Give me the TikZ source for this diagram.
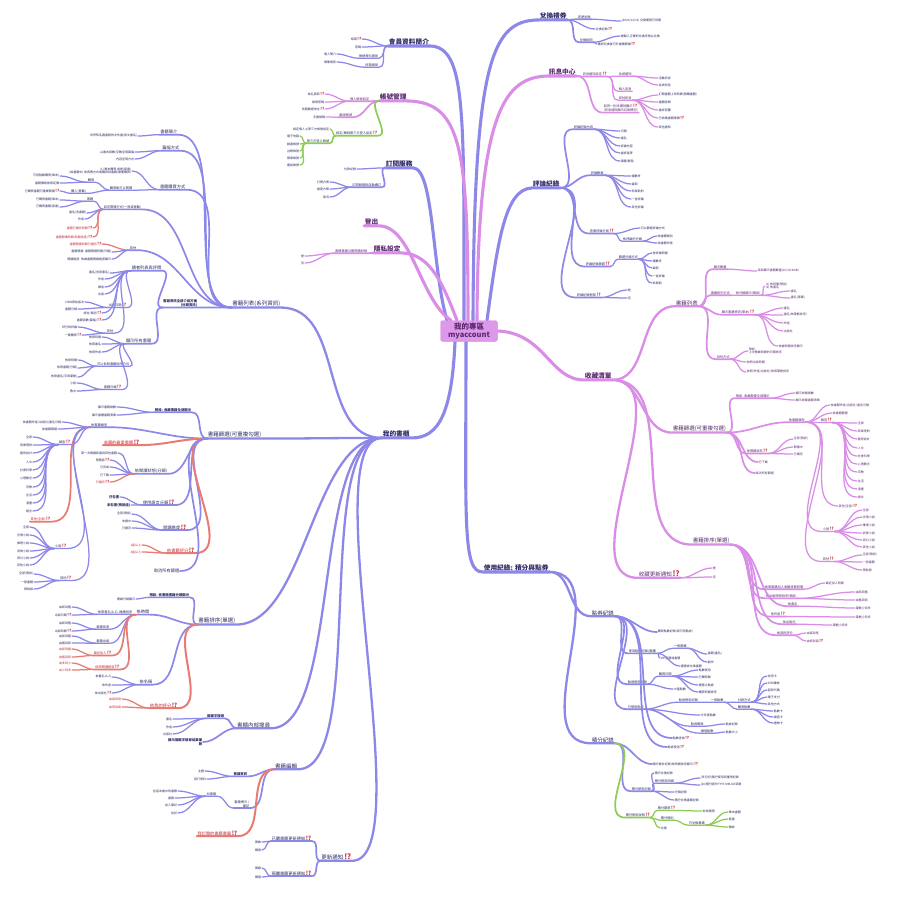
\documentclass[tikz,border=0pt]{standalone}
\usepackage{graphicx}
\usepackage{fontspec}
\setmainfont{Noto Sans CJK TC}
\definecolor{cb}{HTML}{8D88E8}
\definecolor{cp}{HTML}{DA8DE6}
\definecolor{cg}{HTML}{8FCB55}
\definecolor{cr}{HTML}{E77C72}
\definecolor{tb}{HTML}{2E2C66}
\definecolor{tp}{HTML}{5A2A6E}
\definecolor{tr}{HTML}{C8283A}
\definecolor{cfill}{HTML}{DE98EA}
\newcounter{lfc}
\newcommand\Q{\,\textcolor{tr}{\scalebox{1.35}{\bfseries !?}}}
\tikzset{
 every node/.style={inner xsep=0.6pt,inner ysep=0.5pt,text=tb},
 lf/.style={font=\fontsize{3}{3.5}\selectfont},
 mdn/.style={font=\fontsize{3.2}{3.8}\selectfont},
 bld/.style={font=\bfseries\fontsize{3.4}{4}\selectfont},
 l3n/.style={font=\fontsize{4.2}{5}\selectfont},
 lvt/.style={font=\fontsize{5.5}{6.5}\selectfont},
 lvo/.style={font=\bfseries\fontsize{6.7}{8}\selectfont},
 tpk/.style={text=tp}, rtx/.style={text=tr},
 cn/.style={line cap=round,max distance=50pt},
 b1/.style={cn,draw=cb,line width=3.1pt,max distance=70pt},
 b2/.style={cn,draw=cb,line width=2.3pt,max distance=70pt},
 b3/.style={cn,draw=cb,line width=1.7pt},
 b4/.style={cn,draw=cb,line width=1.25pt},
 p1/.style={cn,draw=cp,line width=3.1pt,max distance=70pt},
 p2/.style={cn,draw=cp,line width=2.3pt,max distance=70pt},
 p3/.style={cn,draw=cp,line width=1.7pt},
 p4/.style={cn,draw=cp,line width=1.25pt},
 g3/.style={cn,draw=cg,line width=1.7pt},
 g4/.style={cn,draw=cg,line width=1.25pt},
 r2/.style={cn,draw=cr,line width=2pt},
 r3/.style={cn,draw=cr,line width=1.7pt},
 r4/.style={cn,draw=cr,line width=1.25pt},
 ctrn/.style={fill=cfill,rounded corners=2pt,minimum width=57pt,minimum height=21pt,
   font=\bfseries\fontsize{7.5}{8.5}\selectfont,text=tp,align=center,inner sep=1pt}
}
% topic left / right
\newcommand\TL[7][mdn]{\node[#1,anchor=east,align=right] (#3) at (#5,#6) {#7};
 \draw[#2] (#4.south west) to[out=180,in=0] (#3.south east) -- (#3.south west);}
\newcommand\TR[7][mdn]{\node[#1,anchor=west,align=left] (#3) at (#5,#6) {#7};
 \draw[#2] (#4.south east) to[out=0,in=180] (#3.south west) -- (#3.south east);}
% leaf left / right
\newcommand\LL[6][]{\stepcounter{lfc}\node[lf,#1,anchor=east,align=right] (lv\thelfc) at (#4,#5) {#6};
 \draw[#2] (#3.south west) to[out=180,in=0] (lv\thelfc.east);}
\newcommand\LR[6][]{\stepcounter{lfc}\node[lf,#1,anchor=west,align=left] (lv\thelfc) at (#4,#5) {#6};
 \draw[#2] (#3.south east) to[out=0,in=180] (lv\thelfc.west);}
\begin{document}
\begin{tikzpicture}[x=1pt,y=-1pt]
\useasboundingbox (0,0) rectangle (900,900);
\fill[white] (0,0) rectangle (900,900);
\node[ctrn] (ctr) at (469,331) {我的專區\\myaccount};

% ===== 會員資料簡介
\node[lvo,anchor=west] (m1) at (388,42) {會員資料簡介};
\draw[b1] ([xshift=-5pt]ctr.north) .. controls (464,110) and (466,47) .. (m1.south east) -- (m1.south west);
\LL{b4}{m1}{362}{39}{相簿\Q}
\LL{b4}{m1}{362}{47}{密碼}
\TL{b4}{m1c}{m1}{379}{56}{帳號資料更新}
\LL{b4}{m1c}{337}{54}{個人簡介}
\TL{b4}{m1d}{m1}{379}{65}{信箱更新}
\LL{b4}{m1d}{337}{62}{頭像更新}

% ===== 帳號管理
\node[lvo,tpk,anchor=west] (m2) at (379,97) {帳號管理};
\draw[p1] ([xshift=-1pt]ctr.north) .. controls (468,150) and (462,102) .. (m2.south east) -- (m2.south west);
\TL[mdn,tpk]{p3}{m2a}{m2}{370}{99}{個人帳號設定}
\LL{p4}{m2a}{325}{94}{姓名更新\Q}
\LL{p4}{m2a}{325}{102}{帳號密碼}
\LL{p4}{m2a}{325}{109}{信箱驗證地址\Q}
\TL[mdn,tpk]{p3}{m2b}{m2}{353}{115}{驗證帳號}
\LL{p4}{m2b}{326}{117}{手機號碼}
\TL{g3}{m2c}{m2}{378}{133}{綁定/解除第三方登入設定\Q}
\LL{g4}{m2c}{330}{129}{綁定個人之第三方帳號設定}
\TL{g3}{m2c2}{m2c}{330}{141}{第三方登入帳號}
\LL{g4}{m2c2}{300}{136}{電子信箱}
\LL{g4}{m2c2}{300}{144}{臉書帳號}
\LL{g4}{m2c2}{300}{151}{谷歌帳號}
\LL{g4}{m2c2}{300}{158}{蘋果帳號}
\LL{g4}{m2c2}{300}{165}{連結帳號}

% ===== 訂閱服務
\node[lvo,anchor=west] (m3) at (385,164) {訂閱服務};
\draw[b1] ([xshift=-22pt]ctr.north) .. controls (432,270) and (434,169) .. (m3.south east) -- (m3.south west);
\LL{b4}{m3}{357}{169}{付款紀錄}
\TL{b3}{m3b}{m3}{382}{185}{訂閱服務與自動續訂}
\LL{b4}{m3b}{330}{182}{訂閱方案}
\LL{b4}{m3b}{330}{189}{變更方案}
\LL{b4}{m3b}{330}{197}{取消}

% ===== 登出 / 隱私設定
\node[lvo,tpk,anchor=west] (m4) at (364,222) {登出};
\draw[p1] ([xshift=-18pt]ctr.north) .. controls (420,300) and (412,226) .. (m4.south east) -- (m4.south west);
\node[lvo,tpk,anchor=west] (m5) at (373,249) {隱私設定};
\draw[p1] ([xshift=-12pt]ctr.north) .. controls (445,290) and (432,253) .. (m5.south east) -- (m5.south west);
\TL[mdn,tpk]{p3}{m5a}{m5}{368}{251}{書櫃書籍公開閱讀紀錄}
\LL{p4}{m5a}{305}{256}{是}
\LL{p4}{m5a}{305}{263}{否}

% ===== 兌換禮券
\node[lvo,anchor=west] (m6) at (539,16) {兌換禮券};
\draw[b1] ([xshift=4pt]ctr.north) .. controls (474,60) and (492,20) .. (m6.south west) -- (m6.south east);
\TR{b3}{m6a}{m6}{577}{17}{序號兌換}
\LR{b4}{m6a}{621}{21}{(2023/12/31) 兌換期限已到期}
\LR{b4}{m6}{595}{29}{兌換紀錄\Q}
\TR{b3}{m6c}{m6}{579}{40}{兌換說明}
\LR{b4}{m6c}{620}{36}{請輸入正確的兌換序號以兌換}
\LR{b4}{m6c}{597}{44}{確認兌換後可於書櫃閱讀\Q}

% ===== 訊息中心
\node[lvo,tpk,anchor=west] (m7) at (548,72) {訊息中心};
\draw[p1] ([xshift=8pt]ctr.north) .. controls (478,110) and (505,77) .. (m7.south west) -- (m7.south east);
\TR[mdn,tpk]{p3}{m7a}{m7}{582}{74}{訊息通知設定\Q}
\TR[mdn,tpk]{p4}{m7a1}{m7a}{618}{74}{系統通知}
\LR{p4}{m7a1}{658}{78}{活動訊息}
\LR{p4}{m7a1}{658}{85}{系統訊息}
\TR[mdn,tpk]{p4}{m7a2}{m7a}{618}{89}{個人訊息}
\TR[mdn,tpk]{p4}{m7a3}{m7a}{618}{98}{其他訊息}
\LR{p4}{m7a3}{658}{95}{訂閱書籍上架時間(預購書籍)}
\LR{p4}{m7a3}{658}{102}{書籍促銷}
\LR{p4}{m7a3}{658}{110}{書評回覆}
\LR{p4}{m7a3}{658}{118}{已收藏書籍降價\Q}
\LR{p4}{m7a3}{658}{127}{其他通知}
\TR[mdn,tpk]{p3}{m7b}{m7}{603}{108}{若有一則未讀就顯示\Q\\(訊息通知顯示紅點標記)}

% ===== 評論紀錄
\node[lvo,anchor=west] (m8) at (532,184) {評論紀錄};
\draw[b1] ([xshift=18pt]ctr.north) .. controls (498,240) and (505,189) .. (m8.south west) -- (m8.south east);
\TR{b3}{m8a}{m8}{573}{127}{評論紀錄內容}
\LR{b4}{m8a}{620}{131}{日期}
\LR{b4}{m8a}{620}{138}{書名}
\LR{b4}{m8a}{620}{146}{評論內容}
\LR{b4}{m8a}{620}{153}{書評星等}
\LR{b4}{m8a}{620}{161}{隱藏/刪除}
\TR{b3}{m8b}{m8}{590}{173}{評論數量}
\LR{b4}{m8b}{631}{176}{讚數多}
\LR{b4}{m8b}{631}{184}{最新}
\LR{b4}{m8b}{631}{191}{有幫助的}
\LR{b4}{m8b}{631}{199}{一星評論}
\LR{b4}{m8b}{631}{207}{其他評論}
\TR{b3}{m8c}{m8}{589}{231}{查看評論分頁\Q}
\LR{b4}{m8c}{640}{228}{可以篩選評論方式}
\TR{b4}{m8c2}{m8c}{622}{239}{依評論的分類}
\LR{b4}{m8c2}{657}{236}{依書籍類別}
\LR{b4}{m8c2}{657}{243}{依書籍作者}
\TR{b3}{m8d}{m8}{585}{264}{評論紀錄篩選\Q}
\TR{b4}{m8d1}{m8d}{618}{257}{篩選分類方式}
\LR{b4}{m8d1}{652}{253}{依評論時間}
\LR{b4}{m8d1}{652}{261}{讚數多}
\LR{b4}{m8d1}{652}{268}{最新}
\LR{b4}{m8d1}{652}{276}{一星評論}
\LR{b4}{m8d1}{652}{283}{有幫助}
\TR{b3}{m8e}{m8}{576}{295}{評論紀錄刪除\Q}
\LR{b4}{m8e}{627}{290}{是}
\LR{b4}{m8e}{627}{298}{否}

% ===== 收藏清單
\node[lvo,tpk,anchor=west] (m9) at (584,376) {收藏清單};
\draw[p1] (ctr.east) .. controls (545,333) and (550,380) .. (m9.south west) -- (m9.south east);
\TR[lvt,tpk]{p2}{q1}{m9}{675}{303}{書籍列表}
\TR[lvt,tpk]{p2}{q2}{m9}{672}{429}{書籍篩選(可重複勾選)}
\TR[lvt,tpk]{p2}{q3}{m9}{692}{541}{書籍排序(單選)}
\TR[lvt,tpk]{p2}{q4}{m9}{638}{574}{收藏更新通知\Q}
% 書籍列表
\TR[mdn,tpk]{p3}{q1a}{q1}{713}{267}{顯示數量}
\LR[tpk]{p4}{q1a}{757}{271}{每頁顯示書籍數量(10/20/40本)}
\TR[mdn,tpk]{p3}{q1b}{q1}{710}{293}{書籍排列方式}
\TR[mdn,tpk]{p4}{q1b1}{q1b}{735}{293}{依分類顯示(預設)}
\LR[tpk]{p4}{q1b1}{765}{286}{(1) 依時間(預設)\\(2) 依書名}
\LR[tpk]{p4}{q1b1}{790}{291}{書名}
\LR[tpk]{p4}{q1b1}{790}{298}{書名(降冪)}
\TR[mdn,tpk]{p3}{q1c}{q1}{721}{312}{顯示書籍資訊(單本)\Q}
\LR[tpk]{p4}{q1c}{783}{308}{書名}
\LR[tpk]{p4}{q1c}{783}{315}{書名(依筆劃排序)}
\LR[tpk]{p4}{q1c}{783}{323}{作者}
\LR[tpk]{p4}{q1c}{783}{331}{出版社}
\LR[tpk]{p4}{q1c}{778}{346}{依據時間排序顯示}
\TR[mdn,tpk]{p3}{q1e}{q1}{716}{357}{排列方式}
\LR[tpk]{p4}{q1e}{748}{351}{預設:\\上次開啟時間的日期排序}
\LR[tpk]{p4}{q1e}{746}{362}{依照出版時間}
\LR[tpk]{p4}{q1e}{746}{372}{依照(作者/出版社)依照筆劃排序}
% 書籍篩選
\TR[mdn,tpk]{p3}{q2a}{q2}{735}{396}{預設: 收藏書籍全部顯示}
\LR[tpk]{p4}{q2a}{795}{393}{顯示收藏總數}
\LR[tpk]{p4}{q2a}{795}{400}{顯示收藏書籍清單}
\TR[mdn,tpk]{p3}{q2b}{q2}{788}{420}{依書籍類型}
\LR[tpk]{p4}{q2b}{830}{405}{依書籍作者/出版社/書名分類}
\LR[tpk]{p4}{q2b}{832}{413}{依書籍篩選}
\TR[mdn,tpk]{p4}{q2b1}{q2b}{820}{420}{類型\Q}
\LR[tpk]{p4}{q2b1}{857}{423}{全部}
\LR[tpk]{p4}{q2b1}{857}{431}{商業理財}
\LR[tpk]{p4}{q2b1}{857}{439}{藝術設計}
\LR[tpk]{p4}{q2b1}{857}{448}{人文}
\LR[tpk]{p4}{q2b1}{857}{456}{社會科學}
\LR[tpk]{p4}{q2b1}{857}{464}{心理勵志}
\LR[tpk]{p4}{q2b1}{857}{472}{宗教}
\LR[tpk]{p4}{q2b1}{857}{481}{生活}
\LR[tpk]{p4}{q2b1}{857}{489}{漫畫}
\LR[tpk]{p4}{q2b1}{857}{497}{語言}
\LR[tpk]{p4}{q2b}{838}{506}{其他(全部)\Q}
\TR[mdn,tpk]{p4}{q2b3}{q2b}{822}{529}{小說\Q}
\LR[tpk]{p4}{q2b3}{862}{510}{全部}
\LR[tpk]{p4}{q2b3}{862}{517}{言情小說}
\LR[tpk]{p4}{q2b3}{862}{525}{推理小說}
\LR[tpk]{p4}{q2b3}{862}{533}{武俠小說}
\LR[tpk]{p4}{q2b3}{862}{540}{奇幻小說}
\LR[tpk]{p4}{q2b3}{862}{547}{其他小說}
\TR[mdn,tpk]{p4}{q2b4}{q2b}{822}{559}{其他\Q}
\LR[tpk]{p4}{q2b4}{862}{555}{全部(預設)}
\LR[tpk]{p4}{q2b4}{862}{562}{一般書籍}
\LR[tpk]{p4}{q2b4}{862}{570}{限制級}
\TR[mdn,tpk]{p3}{q2c}{q2}{746}{451}{依閱讀狀態\Q}
\LR[tpk]{p4}{q2c}{793}{439}{全部(預設)}
\LR[tpk]{p4}{q2c}{793}{447}{閱讀中}
\LR[tpk]{p4}{q2c}{793}{454}{已讀完}
\LR[tpk]{p3}{q2}{758}{462}{已下載}
\LR[tpk]{p3}{q2}{755}{473}{取消所有篩選}
% 書籍排序
\TR[mdn,tpk]{p3}{q3a}{q3}{764}{587}{依照書籍加入收藏清單時間}
\LR[tpk]{p4}{q3a}{825}{583}{最近加入時間}
\TR[mdn,tpk]{p3}{q3b}{q3}{765}{596}{依出版時間排序(預設)}
\LR[tpk]{p4}{q3b}{855}{592}{由新到舊}
\LR[tpk]{p4}{q3b}{855}{600}{由舊到新}
\TR[mdn,tpk]{p3}{q3c}{q3}{787}{604}{依書名}
\LR[tpk]{p4}{q3c}{855}{608}{筆劃少到多}
\TR[mdn,tpk]{p3}{q3d}{q3}{770}{614}{依作者\Q}
\LR[tpk]{p4}{q3d}{855}{617}{筆劃少到多}
\TR[mdn,tpk]{p3}{q3e}{q3}{782}{622}{依出版社}
\LR[tpk]{p4}{q3e}{832}{625}{筆劃少到多}
\TR[mdn,tpk]{p3}{q3f}{q3}{776}{633}{依我的評分}
\LR[tpk]{p4}{q3f}{806}{633}{由高到低}
\LR[tpk]{p4}{q3f}{806}{641}{由低到高\Q}
% 收藏更新通知
\LR[tpk]{p4}{q4}{712}{568}{是}
\LR[tpk]{p4}{q4}{712}{577}{否}

% ===== 使用紀錄: 積分與點券
\node[lvo,anchor=west] (m10) at (483,568) {使用紀錄: 積分與點券};
\draw[b1] ([xshift=-3pt]ctr.south) .. controls (466,520) and (462,573) .. (m10.south west) -- (m10.south east);
\TR[lvt]{b2}{u1}{m10}{591}{613}{點券紀錄}
\TR[lvt]{b2}{u2}{m10}{591}{740}{積分紀錄}
\LR{b3}{u1}{657}{632}{購買點數紀錄(與可用點券)}
\TR{b3}{u1b}{u1}{628}{651}{使用點券紀錄(書籍)}
\TR{b4}{u1b1}{u1b}{673}{646}{一般書籍}
\LR{b4}{u1b1}{707}{654}{書籍(書名)}
\LR{b4}{u1b1}{707}{662}{創作}
\LR{b4}{u1b}{660}{658}{VIP書籍或書籍}
\LR{b4}{u1b}{680}{666}{優惠券兌換書籍}
\TR{b3}{u1c}{u1}{627}{682}{點券使用紀錄}
\TR{b4}{u1c1}{u1c}{658}{674}{購買日期}
\LR{b4}{u1c1}{698}{670}{點數使用}
\LR{b4}{u1c1}{698}{677}{已購時間}
\LR{b4}{u1c1}{698}{685}{優惠之點券}
\LR{b4}{u1c1}{698}{692}{購買時間排序}
\LR{b4}{u1c}{673}{689}{大量點數}
\TR{b3}{u1d}{u1}{627}{707}{已使用點券}
\TR{b4}{u1d1}{u1d}{678}{700}{點券使用紀錄}
\TR{b4}{u1d2}{u1d1}{710}{700}{一般點數}
\TR{b4}{u1d3}{u1d2}{737}{700}{付款方式}
\LR{b4}{u1d3}{767}{676}{信用卡}
\LR{b4}{u1d3}{767}{683}{ATM轉帳}
\LR{b4}{u1d3}{767}{690}{超商代碼}
\LR{b4}{u1d3}{767}{697}{電子支付}
\LR{b4}{u1d3}{767}{704}{其他方式}
\TR{b4}{u1d4}{u1d2}{737}{707}{購買點數}
\LR{b4}{u1d4}{773}{711}{點數卡}
\LR{b4}{u1d4}{773}{717}{儲值卡}
\LR{b4}{u1d4}{773}{723}{禮物卡}
\LR{b4}{u1d}{700}{715}{今年度點數}
\TR{b4}{u1d5}{u1d}{690}{724}{點券期限}
\LR{b4}{u1d5}{725}{724}{點券紀錄}
\TR{b4}{u1d6}{u1d}{700}{731}{儲值點數}
\LR{b4}{u1d6}{725}{732}{點數大小}
\LR{b3}{u1}{672}{738}{點數查詢\Q}
\LR{b3}{u1}{667}{747}{點券使用\Q}
\LR{b3}{u2}{652}{764}{積分累計紀錄(依時間排序顯示)\Q}
\TR{b3}{u2b}{u2}{631}{789}{積分使用紀錄}
\LR{b4}{u2b}{654}{773}{積分兌換紀錄}
\TR{b4}{u2b1}{u2b}{654}{781}{積分使用明細}
\LR{b4}{u2b1}{700}{778}{(年月份)積分使用與獲得紀錄}
\LR{b4}{u2b1}{700}{785}{(20)積分將於YYYY-MM-DD到期}
\LR{b4}{u2b}{674}{792}{分類紀錄}
\LR{b4}{u2b}{674}{800}{積分兌換書籍紀錄}
\TR{g3}{u2c}{u2}{625}{815}{積分使用說明\Q}
\TR{g4}{u2c1}{u2c}{657}{808}{積分期限\Q}
\LR{g4}{u2c1}{702}{811}{有效期限}
\TR{g4}{u2c2}{u2c}{660}{818}{積分規則}
\TR{g4}{u2c3}{u2c2}{688}{823}{可兌換書籍}
\LR{g4}{u2c3}{728}{812}{單本書籍}
\LR{g4}{u2c3}{728}{819}{套書}
\LR{g4}{u2c3}{728}{827}{雜誌}
\LR{g4}{u2c}{660}{828}{兌換}

% ===== 我的書櫃
\node[lvo,anchor=west] (m11) at (382,434) {我的書櫃};
\draw[b1] ([xshift=-14pt]ctr.south) .. controls (452,410) and (440,439) .. (m11.south east) -- (m11.south west);
\TL[lvt]{b2}{n1}{m11}{281}{304}{書籍列表(系列資訊)}
\TL[lvt]{b2}{n2}{m11}{262}{435}{書籍篩選(可重複勾選)}
\TL[lvt]{b2}{n3}{m11}{236}{621}{書籍排序(單選)}
\TL[lvt]{b2}{n4}{m11}{271}{725}{書櫃內部搜尋}
\TL[lvt]{b2}{n5}{m11}{298}{766}{書籍編輯}
\TL[lvt]{b2}{n6}{m11}{352}{857}{更新通知\Q}
% 書籍列表(系列資訊)
\TL[l3n]{b3}{n1a}{n1}{178}{132}{書籍簡介}
\LL{b4}{n1a}{138}{136}{世界知名圖書館的文件書(原文書名)}
\TL[l3n]{b3}{n1b}{n1}{180}{148}{篇幅方式}
\LL{b4}{n1b}{135}{152}{以書本頁數/字數呈現篇幅}
\LL{b4}{n1b}{135}{159}{內容呈現方式}
\TL[l3n]{b3}{n1c}{n1}{186}{187}{書籍購買方式}
\LL{b4}{n1c}{132}{171}{(1) 單本購買 或是(套書)\\(如書籍中) 依買賣方式或購買與書籍(需要購買)}
\TL{b4}{n1c1}{n1c}{133}{188}{購買後可以閱讀}
\TL{b4}{n1c11}{n1c1}{95}{180}{購買}
\LL{b4}{n1c11}{60}{176}{可用點數購買(單本)}
\LL{b4}{n1c11}{60}{183}{書籍價格依照定價}
\TL{b4}{n1c12}{n1c1}{87}{191}{購入(買斷)}
\LL{b4}{n1c12}{60}{191}{已購買書籍可重複閱讀\Q}
\TL{b3}{n1d}{n1}{142}{207}{設定閱讀方式(一般或捲動)}
\TL{b4}{n1d1}{n1d}{94}{199}{書籍}
\LL{b4}{n1d1}{60}{200}{已購買書籍(單本)}
\LL{b4}{n1d1}{60}{207}{已購買書籍(套書)}
\LL{b4}{n1d}{87}{213}{書名(含書籍)}
\LL{b4}{n1d}{85}{219}{作者}
\LL[rtx]{r4}{n1d}{93}{228}{書籍已讀完時間\Q}
\LL[rtx]{r4}{n1d}{93}{237}{書籍閱讀時間(時間長度)\Q}
\TL{b3}{n1e}{n1}{137}{248}{其他}
\LL[rtx]{r4}{n1e}{102}{244}{書籍閱讀時間已讀完\Q}
\LL{b4}{n1e}{112}{252}{書籍閱讀: 書籍閱讀時間(分鐘)}
\LL{b4}{n1e}{112}{259}{閱讀進度: 依據書籍閱讀進度顯示}
\TL[bld]{b3}{n1f}{n1}{198}{303}{書籍資訊全部介紹方面\\(分類資訊)}
\TL[l3n]{b3}{n1f1}{n1f}{162}{268}{讀者列表與評價}
\LL{b4}{n1f1}{110}{273}{書名(含原書名)}
\LL{b4}{n1f1}{105}{279}{作者}
\LL{b4}{n1f1}{105}{287}{譯者}
\LL{b4}{n1f1}{105}{294}{出版}
\TL{b4}{n1f1a}{n1f1}{127}{305}{出版日期\Q}
\LL{b4}{n1f1a}{85}{302}{ISBN原始版次}
\LL{b4}{n1f1a}{78}{309}{書籍分類}
\LL{b4}{n1f1}{102}{313}{語言/類別\Q}
\LL{b4}{n1f1}{102}{320}{書籍頁數(篇幅)\Q}
\TL{b4}{n1f1b}{n1f1}{114}{331}{其他}
\LL{b4}{n1f1b}{78}{327}{評分與評論}
\LL{b4}{n1f1b}{82}{335}{一鍵購買\Q}
\TL[l3n]{b3}{n1f2}{n1f}{152}{341}{顯示所有書籍}
\LL{b4}{n1f2}{102}{337}{依照時間}
\LL{b4}{n1f2}{102}{344}{依照書名}
\LL{b4}{n1f2}{102}{352}{依照作者}
\TL{b4}{n1f2a}{n1f2}{130}{364}{可以依照書籍排序方式}
\LL{b4}{n1f2a}{78}{360}{依照時間}
\LL{b4}{n1f2a}{78}{368}{依照書籍(分類)}
\LL{b4}{n1f2a}{78}{377}{依照書名(字首筆劃)}
\TL{b4}{n1f2b}{n1f2}{122}{387}{書籍分類\Q}
\LL{b4}{n1f2b}{77}{383}{小說}
\LL{b4}{n1f2b}{77}{391}{散文}
% 書籍篩選(可重複勾選)
\TL[bld]{b3}{n2a}{n2}{192}{410}{預設: 收藏書籍全部顯示}
\LL{b4}{n2a}{117}{407}{顯示書籍總數}
\LL{b4}{n2a}{117}{415}{顯示書櫃書籍清單}
\TL{b3}{n2b}{n2}{108}{425}{依書籍類型}
\LL{b4}{n2b}{62}{422}{依書籍作者/出版社/書名分類}
\LL{b4}{n2b}{58}{429}{依書籍篩選}
\TL{b4}{n2b1}{n2b}{71}{442}{類型\Q}
\LL{b4}{n2b1}{33}{437}{全部}
\LL{b4}{n2b1}{33}{445}{商業理財}
\LL{b4}{n2b1}{33}{453}{藝術設計}
\LL{b4}{n2b1}{33}{462}{人文}
\LL{b4}{n2b1}{33}{470}{社會科學}
\LL{b4}{n2b1}{33}{478}{心理勵志}
\LL{b4}{n2b1}{33}{487}{宗教}
\LL{b4}{n2b1}{33}{495}{生活}
\LL{b4}{n2b1}{33}{503}{漫畫}
\LL{b4}{n2b1}{33}{511}{語言}
\TL[mdn,rtx]{r3}{n2b2}{n2b}{51}{519}{其他(全部)\Q}
\TL{b4}{n2b3}{n2b}{67}{546}{小說\Q}
\LL{b4}{n2b3}{30}{527}{全部}
\LL{b4}{n2b3}{30}{535}{言情小說}
\LL{b4}{n2b3}{30}{543}{推理小說}
\LL{b4}{n2b3}{30}{551}{武俠小說}
\LL{b4}{n2b3}{30}{558}{奇幻小說}
\LL{b4}{n2b3}{30}{565}{其他小說}
\TL{b4}{n2b4}{n2b}{72}{578}{其他\Q}
\LL{b4}{n2b4}{34}{574}{全部(預設)}
\LL{b4}{n2b4}{34}{582}{一般書籍}
\LL{b4}{n2b4}{34}{589}{限制級}
\TL[l3n,rtx]{r2}{n2c}{n2}{140}{442}{收藏的最愛書籍\Q}
\TL[l3n]{b3}{n2d}{n2}{168}{471}{依閱讀狀態(分類)}
\LL{b4}{n2d}{118}{453}{第一次閱讀新書與其他書籍}
\LL{b4}{n2d}{110}{460}{預覽版\Q}
\LL{b4}{n2d}{110}{467}{已完成}
\LL{b4}{n2d}{110}{475}{已下載}
\LL[rtx]{r4}{n2d}{110}{482}{已讀完\Q}
\TL[l3n]{b3}{n2e}{n2}{175}{502}{使用語言分類\Q}
\LL[bld]{b4}{n2e}{120}{497}{已包書}
\LL[bld]{b4}{n2e}{131}{505}{未包書(預設值)}
\TL[l3n]{b3}{n2f}{n2}{187}{527}{閱讀進度\Q}
\LL{b4}{n2f}{132}{514}{全部(預設)}
\LL{b4}{n2f}{132}{521}{未讀中}
\LL{b4}{n2f}{132}{528}{已讀完}
\TL[l3n,rtx]{r2}{n2g}{n2}{195}{550}{依書籍評分\Q}
\LL[rtx]{r4}{n2g}{142}{545}{1星以上}
\LL[rtx]{r4}{n2g}{142}{552}{2星以上}
\LL[l3n]{b3}{n2}{180}{571}{取消所有篩選}
% 書籍排序(單選)
\TL[bld]{b3}{n3a}{n3}{190}{595}{預設: 依書櫃書籍分類顯示}
\LL{b4}{n3a}{136}{599}{開啟分類顯示}
\TL[l3n]{b3}{n3b}{n3}{150}{612}{依時間}
\TL{b4}{n3b1}{n3b}{133}{612}{依照書名(A-Z), 連續排序}
\LL{b4}{n3b1}{72}{607}{由新到舊}
\LL{b4}{n3b1}{72}{615}{出版日期\Q}
\TL{b4}{n3b2}{n3b}{110}{627}{書籍長度}
\LL{b4}{n3b2}{72}{623}{由新到舊}
\LL{b4}{n3b2}{72}{631}{出版時間\Q}
\TL{b4}{n3b3}{n3b}{110}{641}{書籍出版}
\LL{b4}{n3b3}{72}{636}{由新到舊}
\LL{b4}{n3b3}{72}{643}{由舊到新}
\TL[mdn,rtx]{r3}{n3b4}{n3b}{112}{653}{最近加入\Q}
\LL[rtx]{r4}{n3b4}{72}{649}{由新到舊}
\LL[rtx]{r4}{n3b4}{72}{657}{由舊到新}
\TL[mdn,rtx]{r3}{n3b5}{n3b}{120}{667}{依照閱讀進度\Q}
\LL[rtx]{r4}{n3b5}{72}{663}{由多到少}
\LL[rtx]{r4}{n3b5}{72}{670}{由少到多}
\TL[l3n]{b3}{n3c}{n3}{153}{682}{依名稱}
\LL{b4}{n3c}{112}{677}{依書名(A-Z)}
\LL{b4}{n3c}{112}{685}{依作者}
\LL{b4}{n3c}{112}{693}{依出版社\Q}
\TL[l3n,rtx]{r2}{n3d}{n3}{178}{705}{依我的評分\Q}
\LL[rtx]{r4}{n3d}{122}{699}{由高到低}
\LL[rtx]{r4}{n3d}{122}{707}{由低到高}
% 書櫃內部搜尋
\TL[bld]{b3}{n4a}{n4}{225}{716}{關鍵字搜尋}
\LL{b4}{n4a}{173}{719}{書名}
\LL{b4}{n4a}{173}{727}{作者}
\LL{b4}{n4a}{173}{734}{出版社}
\LL[bld]{b3}{n4}{203}{742}{顯示關鍵字搜尋結果筆\\數}
% 書籍編輯
\TL[bld]{b3}{n5a}{n5}{248}{774}{書籍資訊}
\LL{b4}{n5a}{205}{771}{主題}
\LL{b4}{n5a}{207}{779}{頁行資料}
\TL{b3}{n5b}{n5}{250}{804}{書籍標示 /\\筆記}
\TL{b4}{n5b1}{n5b}{217}{794}{加書籤}
\LL{b4}{n5b1}{178}{791}{在這本書中的書籤}
\LL{b4}{n5b1}{175}{798}{書籤}
\LL{b4}{n5b1}{178}{805}{加入筆記}
\LL{b4}{n5b1}{178}{813}{註記}
\TL[l3n,rtx]{r2}{n5c}{n5}{238}{833}{我訂閱的書籍書籤\Q}
% 更新通知
\TL[l3n]{b3}{n6a}{n6}{312}{838}{已購書籍更新通知\Q}
\LL{b4}{n6a}{262}{842}{開啟}
\LL{b4}{n6a}{262}{850}{關閉}
\TL[l3n]{b3}{n6b}{n6}{312}{873}{預購書籍更新通知\Q}
\LL{b4}{n6b}{262}{868}{開啟}
\LL{b4}{n6b}{262}{877}{關閉}

% center box on top
\node[ctrn] (ctrtop) at (ctr) {我的專區\\myaccount};
\end{tikzpicture}
\end{document}
